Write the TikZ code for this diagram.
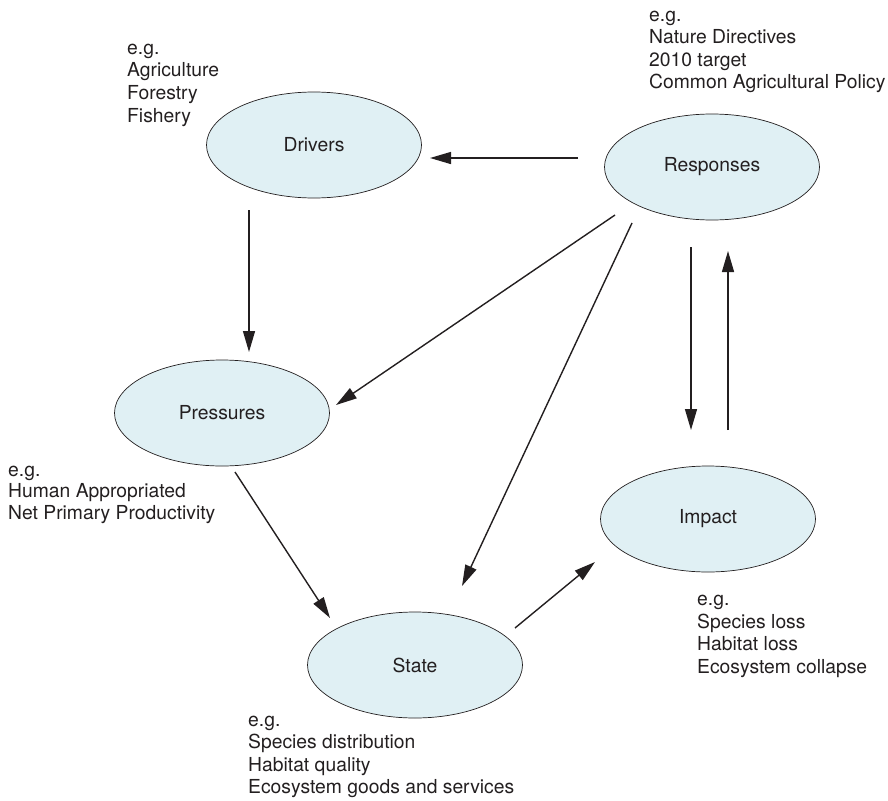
\documentclass[tikz,border=0pt]{standalone}
\usepackage{fontspec}
\setmainfont{TeX Gyre Heros}
\usetikzlibrary{shapes.geometric,arrows.meta,calc}
\definecolor{ellfill}{RGB}{224,240,244}
\definecolor{inkline}{RGB}{35,31,32}
\begin{document}
\begin{tikzpicture}[x=1pt,y=-1pt,
  stage/.style={ellipse,draw=inkline,line width=0.7pt,fill=ellfill,
    minimum width=215pt,minimum height=106pt,inner sep=0pt,
    font=\fontsize{19.3}{22.5}\selectfont,text=inkline},
  note/.style={anchor=base west,inner sep=0pt,
    font=\fontsize{19.3}{22.5}\selectfont,text=inkline},
  flow/.style={draw=inkline,line width=1.4pt,
    -{Triangle[length=21pt,width=12pt]}}]
\useasboundingbox (0,0) rectangle (888,800);

% the five stages of the cycle
\node[stage] (D) at (314,145) {Drivers};
\node[stage] (R) at (712,167) {Responses};
\node[stage] (P) at (222,413) {Pressures};
\node[stage] (I) at (708,519) {Impact};
\node[stage] (S) at (415,665) {State};

% examples for each stage
\node[note] (tD) at (127,54.5)
  {\vtop{\hbox{e.g.}\hbox{Agriculture}\hbox{Forestry}\hbox{Fishery}}};
\node[note] (tR) at (649,21.5)
  {\vtop{\hbox{e.g.}\hbox{Nature Directives}\hbox{2010 target}\hbox{Common Agricultural Policy}}};
\node[note,font=\fontsize{19.3}{21.5}\selectfont] (tP) at (8,476)
  {\vtop{\hbox{e.g.}\hbox{Human Appropriated}\hbox{Net Primary Productivity}}};
\node[note] (tI) at (697,605.5)
  {\vtop{\hbox{e.g.}\hbox{Species loss}\hbox{Habitat loss}\hbox{Ecosystem collapse}}};
\node[note] (tS) at (248,726)
  {\vtop{\hbox{e.g.}\hbox{Species distribution}\hbox{Habitat quality}\hbox{Ecosystem goods and services}}};

% links between the stages
\draw[flow] ($(R.center)+(-134,-9)$) -- ($(D.center)+(116,13)$);
\draw[flow] ($(D.center)+(-65,65)$) -- ($(P.center)+(27,-61)$);
\draw[flow] ($(R.center)+(-97,48)$) -- ($(P.center)+(114,-8)$);
\draw[flow] ($(R.center)+(-80,56)$) -- ($(S.center)+(47,-79)$);
\draw[flow] ($(P.center)+(13,59)$) -- ($(S.center)+(-85,-47)$);
\draw[flow] ($(S.center)+(100,-37)$) -- ($(I.center)+(-113,43)$);
\draw[flow] ($(R.center)+(-21,80)$) -- ($(I.center)+(-17,-89)$);
\draw[flow] ($(I.center)+(20,-89)$) -- ($(R.center)+(16,84)$);
\end{tikzpicture}
\end{document}
